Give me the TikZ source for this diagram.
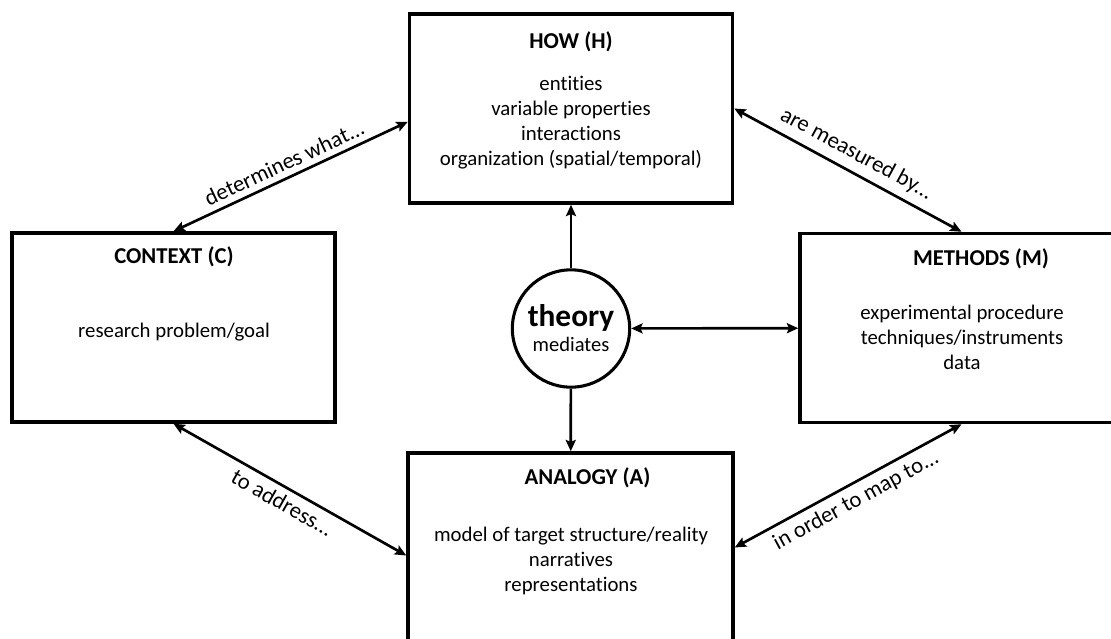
\documentclass[tikz,border=0pt]{standalone}
\usepackage{fontspec}
\setmainfont{Carlito}[Ligatures=NoCommon]
\usetikzlibrary{arrows.meta, positioning}

\begin{document}
\begin{tikzpicture}[
            x=0.75pt, y=-0.75pt,
            >={Stealth[length=8.5pt, width=7.5pt, inset=1.5pt]},
            box/.style={draw, line width=2.6pt, minimum width=242.25pt, minimum height=141.75pt, inner sep=0pt},
            title/.style={font=\fontsize{17}{20}\selectfont\bfseries},
            body/.style={align=center, font=\fontsize{15.6}{18.75}\selectfont},
            link/.style={line width=2pt},
            lbl/.style={font=\fontsize{17}{20}\selectfont, sloped}]
            \path [use as bounding box, clip] (0,0) rectangle (1111,639);

            % the four boxes and the circle
            \node [box] (how) at (571,108.5) {};
            \node [box] (context) at (173.5,327.5) {};
            \node [box] (methods) at (961.5,328) {};
            \node [box, minimum width=243.75pt] (analogy) at (570.5,547.5) {};
            \node [draw, circle, line width=2.3pt, minimum size=88pt, inner sep=0pt, align=center] (theory) at (571,328.5)
                  {\fontsize{23.5}{18.75}\selectfont\bfseries theory\\[3.4pt]\fontsize{15.4}{18.75}\mdseries\selectfont mediates};

            \node [title] (howtitle) at (571,41.5) {HOW (H)};
            \node [body] (howbody) at (571,123) {entities\\variable properties\\interactions\\organization (spatial/temporal)};
            \node [title] (contexttitle) at (174,257) {CONTEXT (C)};
            \node [body] (contextbody) at (174,332) {research problem/goal};
            \node [title] (methodstitle) at (981,258.5) {METHODS (M)};
            \node [body] (methodsbody) at (962,337) {experimental procedure\\techniques/instruments\\data};
            \node [title] (analogytitle) at (587.5,477.5) {ANALOGY (A)};
            \node [body] (analogybody) at (571,560.5) {model of target structure/reality\\narratives\\representations};

            % theory in the middle
            \draw [->, link] (theory) -- (how);
            \draw [->, link] (theory) -- (analogy);
            \draw [<->, link] (theory) -- (methods);

            % round the outside
            \path (context.north) edge [<->, link] node [lbl, above=1pt] {determines what...} ([yshift=-10pt]how.west)
                  (how.east) edge [<->, link] node [lbl, above=2pt] {are measured by...} (methods.north)
                  (context.south) edge [<->, link] node [lbl, below=1pt] {to address...} ([yshift=-6pt]analogy.west)
                  (analogy.east) edge [<->, link] node [lbl, below=1pt] {in order to map to...} (methods.south);
        \end{tikzpicture}
\end{document}
